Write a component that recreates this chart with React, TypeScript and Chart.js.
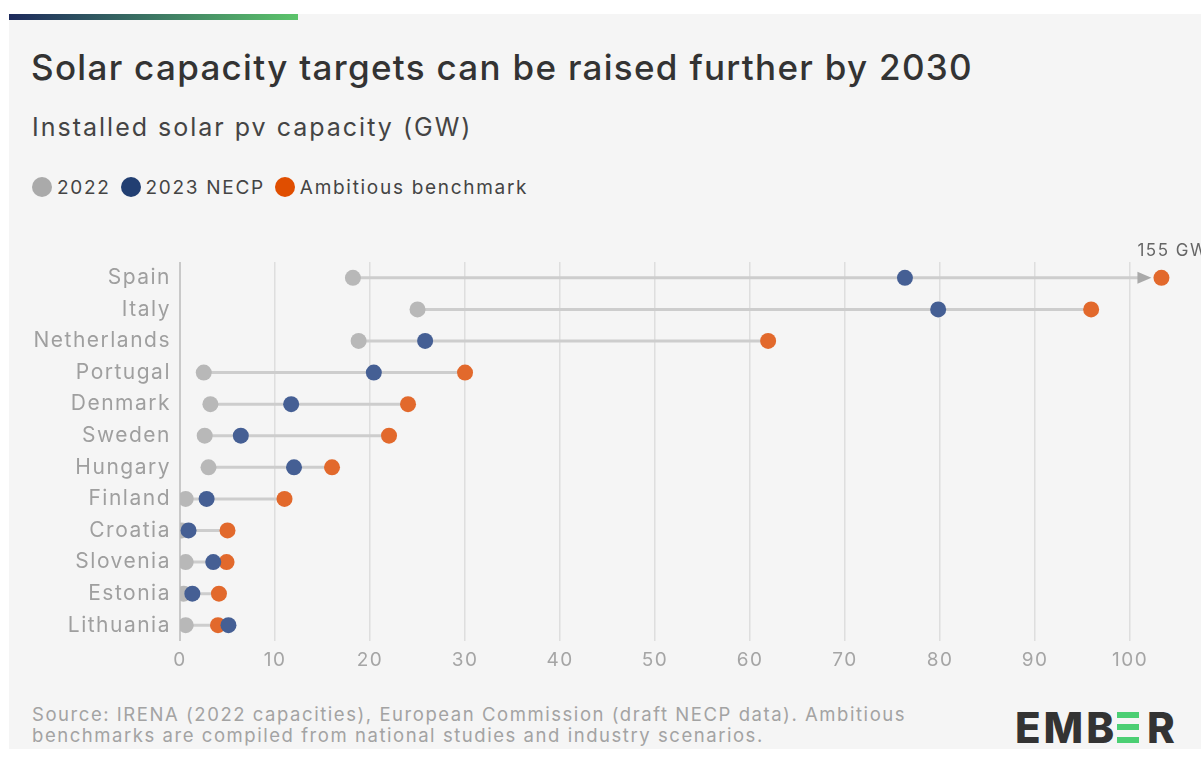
import React, { useEffect, useRef } from "react";
import { Chart, registerables } from "chart.js";

Chart.register(...registerables);

const categories = ["Spain", "Italy", "Netherlands", "Portugal", "Denmark", "Sweden", "Hungary", "Finland", "Croatia", "Slovenia", "Estonia", "Lithuania"];
const values2022 = [18.2, 25.0, 18.8, 2.5, 3.2, 2.6, 3.0, 0.6, 0.2, 0.6, 0.4, 0.6];
const valuesNecp = [76.3, 79.8, 25.8, 20.4, 11.7, 6.4, 12.0, 2.8, 0.9, 3.5, 1.3, 5.1];
const valuesAmbitious = [155, 95.9, 61.9, 30.0, 24.0, 22.0, 16.0, 11.0, 5.0, 4.9, 4.1, 4.0];
const xTicks = [0, 10, 20, 30, 40, 50, 60, 70, 80, 90, 100];
const AXIS_MAX = 104.2;
const BREAK_VALUE = 103.3; // where out-of-range values are drawn

const FONT = "Inter, 'Noto Sans', sans-serif";

const shown = (v: number) => (v > AXIS_MAX ? BREAK_VALUE : v);

const spacingPlugin = {
  id: "letterSpacing",
  beforeDraw(chart: any) {
    chart.ctx.letterSpacing = "1.5px";
  },
};

const linesPlugin = {
  id: "dumbbellLines",
  beforeDatasetsDraw(chart: any) {
    const { ctx, scales } = chart;
    const xs = scales.x;
    const ys = scales.y;
    ctx.save();
    categories.forEach((_, i) => {
      const vals = [values2022[i], valuesNecp[i], valuesAmbitious[i]];
      const lo = Math.min(...vals);
      const hiRaw = Math.max(...vals);
      const y = ys.getPixelForValue(i);
      const x0 = xs.getPixelForValue(lo);
      ctx.strokeStyle = "#cdcdcd";
      ctx.lineWidth = 3;
      if (hiRaw > AXIS_MAX) {
        const xp = xs.getPixelForValue(shown(hiRaw));
        const tip = xp - 10;
        const headLen = 14;
        ctx.beginPath();
        ctx.moveTo(x0, y);
        ctx.lineTo(tip - headLen + 2, y);
        ctx.stroke();
        ctx.fillStyle = "#a9a9a9";
        ctx.beginPath();
        ctx.moveTo(tip, y);
        ctx.lineTo(tip - headLen, y - 6);
        ctx.lineTo(tip - headLen, y + 6);
        ctx.closePath();
        ctx.fill();
        ctx.fillStyle = "#666";
        ctx.font = `17px ${FONT}`;
        ctx.textAlign = "left";
        ctx.textBaseline = "middle";
        ctx.fillText(`${hiRaw} GW`, xp - 24, y - 27);
      } else {
        const x1 = xs.getPixelForValue(hiRaw);
        ctx.beginPath();
        ctx.moveTo(x0, y);
        ctx.lineTo(x1, y);
        ctx.stroke();
      }
    });
    ctx.restore();
  },
};

function App() {
  const ref = useRef<HTMLCanvasElement | null>(null);

  useEffect(() => {
    document.body.style.margin = "0";
    if (!ref.current) return;
    const mk = (arr: number[]) => arr.map((v, i) => ({ x: shown(v), y: categories[i] }));
    const chart = new Chart(ref.current, {
      type: "scatter",
      data: {
        labels: categories,
        datasets: [
          { label: "2022", data: mk(values2022), backgroundColor: "#b8b8b8", borderWidth: 0, pointRadius: 8, pointHoverRadius: 8, order: 3 },
          { label: "Ambitious benchmark", data: mk(valuesAmbitious), backgroundColor: "#e2692c", borderWidth: 0, pointRadius: 8, pointHoverRadius: 8, order: 2 },
          { label: "2023 NECP", data: mk(valuesNecp), backgroundColor: "#455f94", borderWidth: 0, pointRadius: 8, pointHoverRadius: 8, order: 1 },
        ],
      },
      options: {
        animation: false,
        responsive: false,
        maintainAspectRatio: false,
        layout: { padding: { top: 22, right: 31, left: 0, bottom: 0 } },
        plugins: { legend: { display: false }, tooltip: { enabled: false } },
        scales: {
          x: {
            type: "linear",
            min: 0,
            max: AXIS_MAX,
            afterBuildTicks: (scale: any) => {
              scale.ticks = xTicks.map((v) => ({ value: v }));
            },
            afterFit: (scale: any) => {
              scale.height = 39;
            },
            grid: {
              drawTicks: false,
              color: (c: any) => (c.tick && c.tick.value === 0 ? "#c9c9c9" : "#dedede"),
              lineWidth: (c: any) => (c.tick && c.tick.value === 0 ? 2 : 1.5),
            },
            border: { display: false },
            ticks: { color: "#a5a5a5", font: { family: FONT, size: 19 }, padding: 8 },
          },
          y: {
            type: "category",
            labels: categories,
            offset: true,
            afterFit: (scale: any) => {
              scale.width = 160;
            },
            grid: { display: false, drawTicks: false },
            border: { display: false },
            ticks: { color: "#9f9f9f", font: { family: FONT, size: 21 }, padding: 9 },
          },
        },
      },
      plugins: [spacingPlugin, linesPlugin],
    } as any);
    return () => chart.destroy();
  }, []);

  const legendItems = [
    { label: "2022", color: "#aaaaaa" },
    { label: "2023 NECP", color: "#223f72" },
    { label: "Ambitious benchmark", color: "#e04e00" },
  ];

  return (
    <div style={{ position: "absolute", left: 0, top: 0, width: 1201, height: 758, background: "#fff", overflow: "hidden", fontFamily: FONT }}>
      <div style={{ position: "absolute", left: 9, top: 14, width: 1192, height: 735, background: "#f5f5f5" }} />
      <div style={{ position: "absolute", left: 9, top: 14, width: 289, height: 6, background: "linear-gradient(90deg, #1d2a5c, #5cc46b)" }} />
      <div style={{ position: "absolute", left: 31, top: 44, fontSize: 35, fontWeight: 500, color: "#333", lineHeight: "46px", whiteSpace: "nowrap", letterSpacing: 1.3 }}>
        Solar capacity targets can be raised further by 2030
      </div>
      <div style={{ position: "absolute", left: 32, top: 111, fontSize: 25, color: "#444", lineHeight: "32px", whiteSpace: "nowrap", letterSpacing: 2.0 }}>
        Installed solar pv capacity (GW)
      </div>
      <div style={{ position: "absolute", left: 32, top: 175, display: "flex", alignItems: "center", height: 24, whiteSpace: "nowrap" }}>
        {legendItems.map((it) => (
          <div key={it.label} style={{ display: "flex", alignItems: "center", marginRight: 10 }}>
            <span style={{ display: "inline-block", width: 20, height: 20, borderRadius: 10, background: it.color, marginRight: 5 }} />
            <span style={{ fontSize: 19, color: "#444", letterSpacing: 1.7 }}>{it.label}</span>
          </div>
        ))}
      </div>
      <canvas ref={ref} width={1181} height={440} style={{ position: "absolute", left: 20, top: 240, width: 1181, height: 440 }} />
      <div style={{ position: "absolute", left: 32, top: 704, fontSize: 18.5, color: "#a3a3a3", lineHeight: "21px", whiteSpace: "nowrap", letterSpacing: 1.55 }}>
        Source: IRENA (2022 capacities), European Commission (draft NECP data). Ambitious
        <br />
        benchmarks are compiled from national studies and industry scenarios.
      </div>
      <div style={{ position: "absolute", left: 1014, top: 703, height: 50, width: 170 }}>
        <span style={{ position: "absolute", left: 1, top: 0, fontSize: 42, fontWeight: 800, color: "#333", lineHeight: "50px", letterSpacing: 3 }}>EMB</span>
        <span style={{ position: "absolute", left: 103, top: 9, width: 22, height: 6, background: "#4bcf73" }} />
        <span style={{ position: "absolute", left: 103, top: 21, width: 22, height: 6, background: "#4bcf73" }} />
        <span style={{ position: "absolute", left: 103, top: 34, width: 22, height: 6, background: "#4bcf73" }} />
        <span style={{ position: "absolute", left: 133, top: 0, fontSize: 42, fontWeight: 800, color: "#333", lineHeight: "50px" }}>R</span>
      </div>
    </div>
  );
}

export default App;
